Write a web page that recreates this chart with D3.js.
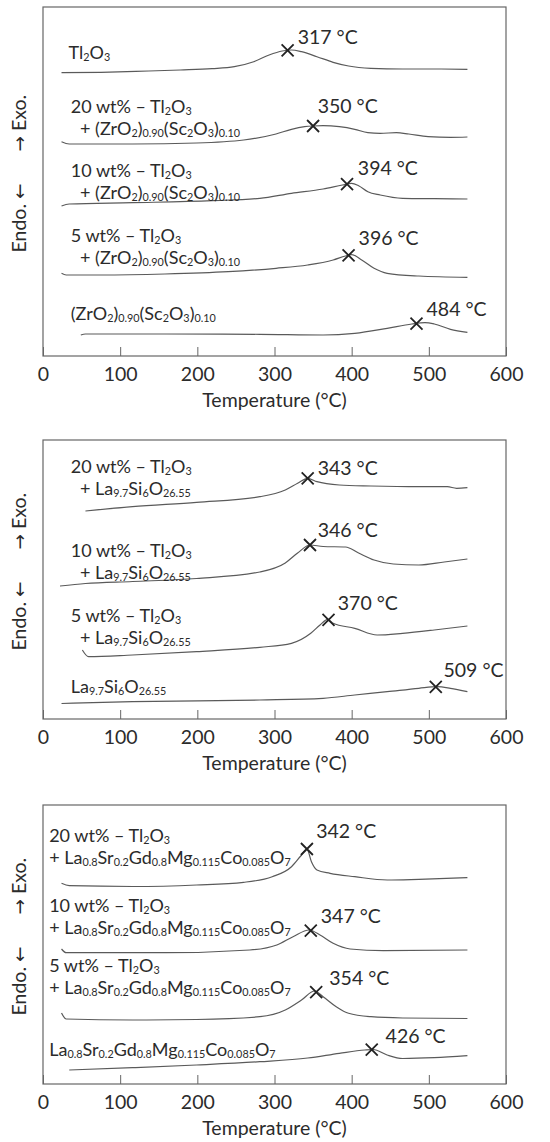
<!DOCTYPE html>
<html><head><meta charset="utf-8">
<script src="https://cdn.jsdelivr.net/npm/d3@7"></script>
<style>body{margin:0;background:#fff} svg{display:block}</style>
</head><body><svg id="c" width="550" height="1142"></svg>
<script>
// ---------------- DATA (temperature °C, DTA signal in arbitrary units) ----------------
const tempTicks = [0, 100, 200, 300, 400, 500, 600];

// Panel 1: Tl2O3 + (ZrO2)0.90(Sc2O3)0.10
const p1_Tl2O3 = [[24,283.3],[75,283.7],[137,285],[178,286],[219,287.3],[248,289.3],[273,294.3],[293,301],[310,305],[322,306],[335,304.3],[355,299.3],[376,293.7],[396,290],[425,287.7],[466,287],[507,287],[550,286.7]];
const p1_20wt = [[24,214.3],[34,212],[116,212],[199,213],[260,216],[302,222],[322,226.7],[339,229.3],[350,230],[363,230.3],[384,229.3],[404,226.7],[421,223.3],[437,222.7],[458,223.3],[474,222],[499,219.3],[528,218.7],[550,219]];
const p1_10wt = [[24,150],[34,152],[116,153.3],[219,155.3],[281,157.7],[322,162.7],[363,167],[388,171],[400,172.7],[409,170.3],[421,164.3],[437,161],[466,157.7],[507,157.3],[550,157]];
const p1_5wt = [[24,82.7],[30,81],[75,81],[158,82],[240,84.3],[302,87.7],[343,91],[376,96],[392,100],[400,101.3],[413,96],[429,87.7],[446,82.7],[487,80],[550,78.7]];
const p1_ScSZ = [[49,21],[55,22],[158,22],[281,21.7],[363,21],[404,22.7],[446,27.7],[478,32],[495,33.3],[507,32],[528,26.7],[550,23.7]];
const p1Peaks = [317, 350, 394, 396, 484];
const p1Names = [
  ["Tl_{2}O_{3}"],
  ["20 wt% – Tl_{2}O_{3}", "+ (ZrO_{2})_{0.90}(Sc_{2}O_{3})_{0.10}"],
  ["10 wt% – Tl_{2}O_{3}", "+ (ZrO_{2})_{0.90}(Sc_{2}O_{3})_{0.10}"],
  ["5 wt% – Tl_{2}O_{3}", "+ (ZrO_{2})_{0.90}(Sc_{2}O_{3})_{0.10}"],
  ["(ZrO_{2})_{0.90}(Sc_{2}O_{3})_{0.10}"]
];

// Panel 2: Tl2O3 + La9.7Si6O26.55
const p2_20wt = [[55,208],[116,212.3],[199,216.7],[281,222.3],[314,229],[330,235.7],[343,240.7],[355,237.3],[384,234],[425,233],[487,232.3],[524,232.3],[536,230.7],[550,231.3]];
const p2_10wt = [[22,133],[55,135.5],[116,137.5],[199,140.5],[281,147],[314,156],[330,166],[346,174],[363,172.5],[392,172],[409,166],[429,159],[454,155],[487,154],[520,157],[550,160]];
const p2_5wt = [[51,69],[59,62.3],[116,64],[199,67.3],[281,71.7],[322,75.7],[347,85.7],[359,94],[369,99.7],[376,95.7],[404,90.7],[433,84],[466,85.7],[507,89],[550,93]];
const p2_LSO = [[24,15.5],[116,17.3],[281,19],[363,20.7],[404,24],[446,27.3],[487,30.7],[511,32.3],[528,30.7],[550,27.3]];
const p2Peaks = [343, 346, 370, 509];
const p2Names = [
  ["20 wt% – Tl_{2}O_{3}", "+ La_{9.7}Si_{6}O_{26.55}"],
  ["10 wt% – Tl_{2}O_{3}", "+ La_{9.7}Si_{6}O_{26.55}"],
  ["5 wt% – Tl_{2}O_{3}", "+ La_{9.7}Si_{6}O_{26.55}"],
  ["La_{9.7}Si_{6}O_{26.55}"]
];

// Panel 3: Tl2O3 + La0.8Sr0.2Gd0.8Mg0.115Co0.085O7
const p3_20wt = [[24,200.7],[34,198.3],[116,197.5],[199,199],[260,201.7],[297,207.3],[322,217.3],[334,228],[342,235],[348,222],[355,214],[372,210.7],[404,207.3],[446,204],[487,204.7],[550,206.3]];
const p3_10wt = [[24,135],[30,131.3],[160,131.3],[268,134],[303,139],[324,147.3],[345,154],[359,149],[376,140.7],[398,135],[441,133.3],[550,134]];
const p3_5wt = [[24,71],[30,65],[116,64],[199,64.5],[281,67.3],[314,74],[335,84],[352,93],[363,87.3],[380,77.3],[396,70.7],[425,67.3],[466,66],[550,65.5]];
const p3_LSGMC = [[34,14],[116,16.3],[199,19],[281,22.3],[343,26],[384,30.7],[417,34],[428,34.5],[446,29],[466,25.5],[507,26.3],[550,28.3]];
const p3Peaks = [342, 347, 354, 426];
const p3Names = [
  ["20 wt% – Tl_{2}O_{3}", "+ La_{0.8}Sr_{0.2}Gd_{0.8}Mg_{0.115}Co_{0.085}O_{7}"],
  ["10 wt% – Tl_{2}O_{3}", "+ La_{0.8}Sr_{0.2}Gd_{0.8}Mg_{0.115}Co_{0.085}O_{7}"],
  ["5 wt% – Tl_{2}O_{3}", "+ La_{0.8}Sr_{0.2}Gd_{0.8}Mg_{0.115}Co_{0.085}O_{7}"],
  ["La_{0.8}Sr_{0.2}Gd_{0.8}Mg_{0.115}Co_{0.085}O_{7}"]
];

const xTitle = "Temperature (°C)";
const yTitleLow = ["Endo. ", "←"];
const yTitleHigh = ["→", " Exo."];

// ---------------- LAYOUT ----------------
const panels = [
  { top: 7, bottom: 356, yMax: 349, indentT: 48,
    curves: [p1_Tl2O3, p1_20wt, p1_10wt, p1_5wt, p1_ScSZ], peaks: p1Peaks, names: p1Names,
    nameAt: [[33,297],[36,243],[36,179],[36,114],[36,36]],
    peakTextAt: [[330,312],[356,243],[408,181],[409,111],[497,40]] },
  { top: 440, bottom: 719, yMax: 279, indentT: 48,
    curves: [p2_20wt, p2_10wt, p2_5wt, p2_LSO], peaks: p2Peaks, names: p2Names,
    nameAt: [[36,246],[36,162],[36,97],[36,26]],
    peakTextAt: [[356,244],[356,182],[382,109],[519,42]] },
  { top: 805, bottom: 1084, yMax: 279, indentT: 8,
    curves: [p3_20wt, p3_10wt, p3_5wt, p3_LSGMC], peaks: p3Peaks, names: p3Names,
    nameAt: [[8,242],[8,172],[8,112],[8,28]],
    peakTextAt: [[354,246],[360,161],[371,99],[444,41]] }
];
const left = 43, right = 506;
const FONT = "Lato, 'Open Sans', sans-serif";
const FS = 19.5, LFS = 18, SUB = 0.6;
const lineGap = 22;
const TXT = "#2b2b2b";

const svg = d3.select("#c");
const x = d3.scaleLinear().domain([0, 600]).range([left, right]);

function parseRich(str) {
  const out = []; const re = /_\{([^}]*)\}/g; let last = 0, m;
  while ((m = re.exec(str))) {
    if (m.index > last) out.push({ t: str.slice(last, m.index), sub: false });
    out.push({ t: m[1], sub: true }); last = re.lastIndex;
  }
  if (last < str.length) out.push({ t: str.slice(last), sub: false });
  return out;
}
function richLabel(g, lines, xs, py) {
  const t = g.append("text").attr("y", py)
    .attr("font-family", FONT).attr("font-size", LFS).attr("fill", TXT);
  let shift = 0;
  lines.forEach((ln, k) => {
    parseRich(ln).forEach((s, j) => {
      const ts = t.append("tspan").text(s.t);
      let dy = 0;
      if (j === 0) { ts.attr("x", xs[k]); dy += (k === 0 ? 0 : lineGap) - shift; shift = 0; }
      if (s.sub) { ts.attr("font-size", LFS * SUB); if (shift === 0) { dy += 1.5; shift = 1.5; } }
      else if (shift !== 0) { dy -= shift; shift = 0; }
      if (dy !== 0) ts.attr("dy", dy);
    });
  });
  return t;
}
function interpAt(data, T) {
  for (let i = 1; i < data.length; i++) {
    if (T <= data[i][0]) {
      const a = data[i-1], b = data[i], f = (T - a[0]) / (b[0] - a[0]);
      return a[1] + f * (b[1] - a[1]);
    }
  }
  return data[data.length-1][1];
}

panels.forEach(p => {
  const y = d3.scaleLinear().domain([0, p.yMax]).range([p.bottom, p.top]);
  const g = svg.append("g");

  const axis = d3.axisBottom(x).tickValues(tempTicks).tickSizeInner(-9).tickSizeOuter(0).tickPadding(11);
  const ag = g.append("g").attr("transform", `translate(0,${p.bottom})`).call(axis);
  ag.select(".domain").remove();
  ag.selectAll(".tick line").attr("stroke", "#666").attr("stroke-width", 1);
  ag.selectAll(".tick text").attr("font-family", FONT).attr("font-size", FS).attr("fill", TXT);

  g.append("rect").attr("x", left).attr("y", p.top).attr("width", right - left).attr("height", p.bottom - p.top)
    .attr("fill", "none").attr("stroke", "#666").attr("stroke-width", 1.2);

  g.append("text").attr("x", (left + right) / 2).attr("y", p.bottom + 51).attr("text-anchor", "middle")
    .attr("font-family", FONT).attr("font-size", FS).attr("fill", TXT).text(xTitle);

  const cy = (p.top + p.bottom) / 2;
  const yt = g.append("g").attr("transform", `translate(26,${cy}) rotate(-90)`);
  const t1 = yt.append("text").attr("x", -2).attr("text-anchor", "end").attr("font-family", FONT).attr("font-size", FS).attr("fill", TXT);
  t1.append("tspan").text(yTitleLow[0]);
  t1.append("tspan").attr("font-family", "'DejaVu Sans', sans-serif").attr("font-size", FS * 0.95).text(yTitleLow[1]);
  const t2 = yt.append("text").attr("x", 30).attr("text-anchor", "start").attr("font-family", FONT).attr("font-size", FS).attr("fill", TXT);
  t2.append("tspan").attr("font-family", "'DejaVu Sans', sans-serif").attr("font-size", FS * 0.95).text(yTitleHigh[0]);
  t2.append("tspan").text(yTitleHigh[1]);

  const line = d3.line().x(d => x(d[0])).y(d => y(d[1])).curve(d3.curveMonotoneX);
  p.curves.forEach((c, i) => {
    g.append("path").datum(c).attr("d", line).attr("fill", "none").attr("stroke", "#5a5a5a").attr("stroke-width", 1.2);
    const T = p.peaks[i];
    const mx = x(T), my = y(interpAt(c, T)), s = 6;
    g.append("path").attr("d", `M${mx-s},${my-s}L${mx+s},${my+s}M${mx-s},${my+s}L${mx+s},${my-s}`)
      .attr("stroke", "#222").attr("stroke-width", 1.8).attr("fill", "none");
    const pt = p.peakTextAt[i];
    g.append("text").attr("x", x(pt[0])).attr("y", y(pt[1])).attr("font-family", FONT).attr("font-size", FS)
      .attr("fill", TXT).text(`${T} °C`);
    const na = p.nameAt[i];
    const xs = p.names[i].map((_, k) => k === 0 ? x(na[0]) : x(p.indentT));
    richLabel(g, p.names[i], xs, y(na[1]));
  });
});
</script></body></html>
